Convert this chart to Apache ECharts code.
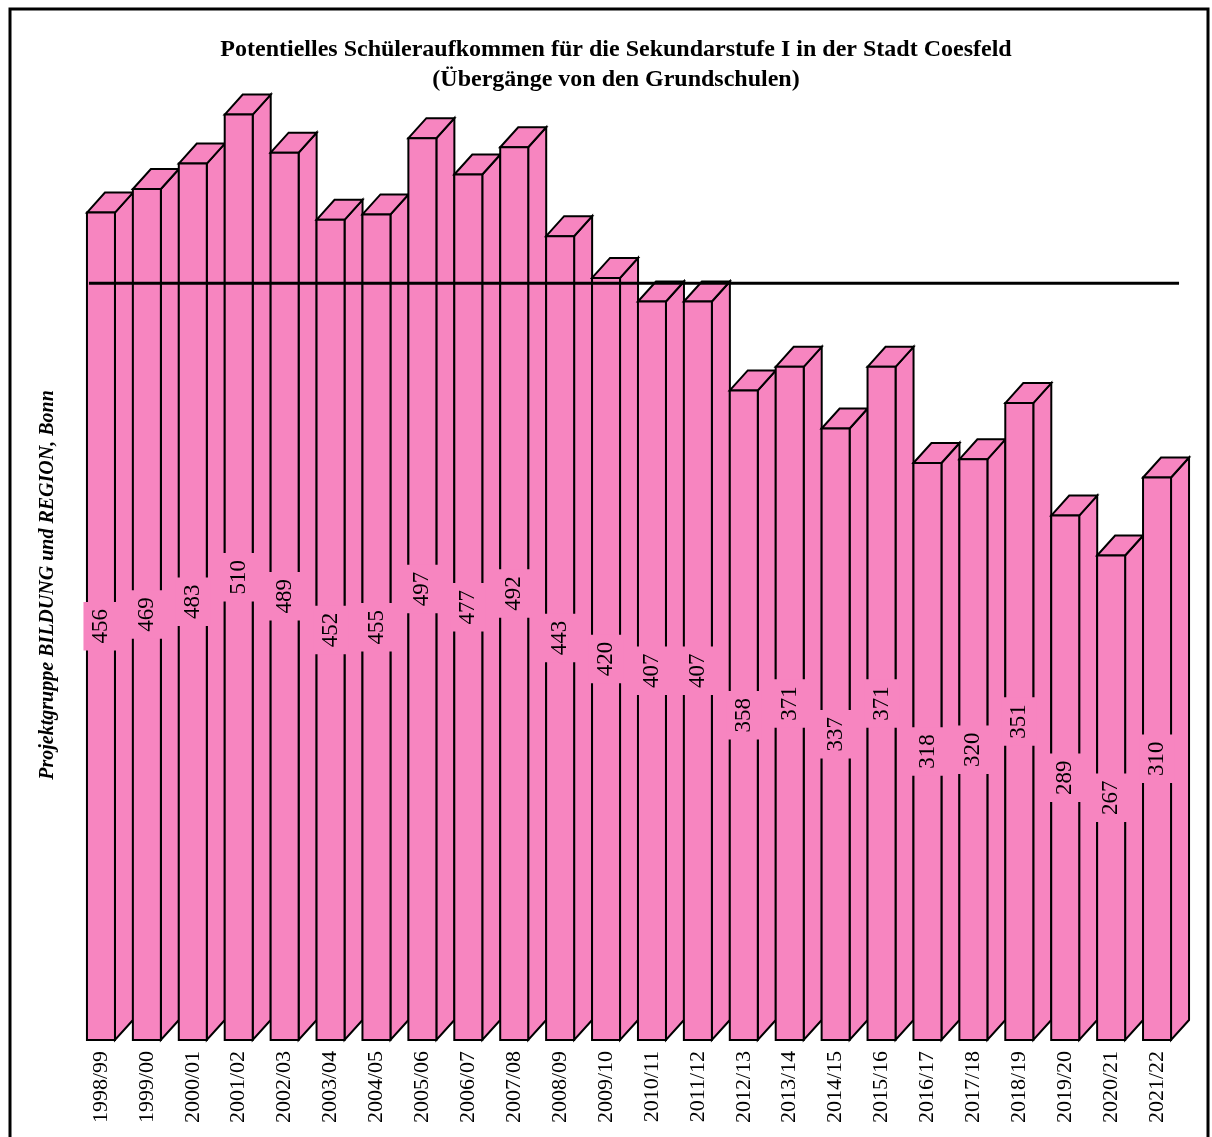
<!DOCTYPE html>
<html>
<head>
<meta charset="utf-8">
<script src="https://cdn.jsdelivr.net/npm/echarts@6/dist/echarts.min.js"></script>
<style>
  html, body { margin: 0; padding: 0; background: #fff; }
  #chart { width: 1212px; height: 1137px; }
</style>
</head>
<body>
<div id="chart"></div>
<script>
const categories = ['1998/99', '1999/00', '2000/01', '2001/02', '2002/03', '2003/04', '2004/05', '2005/06',
  '2006/07', '2007/08', '2008/09', '2009/10', '2010/11', '2011/12', '2012/13', '2013/14', '2014/15',
  '2015/16', '2016/17', '2017/18', '2018/19', '2019/20', '2020/21', '2021/22']
const values = [456, 469, 483, 510, 489, 452, 455, 497, 477, 492, 443, 420, 407, 407, 358, 371, 337,
  371, 318, 320, 351, 289, 267, 310]
// horizontal reference line
const referenceValue = 417

const pink = '#f785c0'
const serif = '"Liberation Serif", "Times New Roman", serif'

const chart = echarts.init(document.getElementById('chart'))

function renderBar(params, api) {
  const i = api.value(0)
  const v = api.value(1)
  const top = api.coord([i, v])
  const base = api.coord([i, 0])
  const w = 28, dx = 18, dy = 20
  const x0 = top[0] - w / 2
  const x1 = top[0] + w / 2
  const style = { fill: pink, stroke: '#000', lineWidth: 2, lineJoin: 'miter' }
  const z = i * 4
  return {
    type: 'group',
    children: [
      {
        type: 'polygon', z2: z,
        shape: { points: [[x1, top[1]], [x1 + dx, top[1] - dy], [x1 + dx, base[1] - dy], [x1, base[1]]] },
        style
      },
      {
        type: 'polygon', z2: z + 1,
        shape: { points: [[x0, top[1]], [x0 + dx, top[1] - dy], [x1 + dx, top[1] - dy], [x1, top[1]]] },
        style
      },
      {
        type: 'rect', z2: z + 2,
        shape: { x: x0, y: top[1], width: w, height: base[1] - top[1] },
        style
      },
      {
        type: 'text', z2: 500,
        x: top[0], y: (top[1] + base[1]) / 2,
        rotation: Math.PI / 2,
        style: {
          text: String(v),
          fill: '#000',
          font: '23px ' + serif,
          align: 'center',
          verticalAlign: 'middle',
          backgroundColor: pink,
          padding: [6, 7]
        }
      }
    ]
  }
}

function renderRefLine(params, api) {
  const start = api.coord([0, api.value(0)])
  const end = api.coord([categories.length - 1, api.value(0)])
  return {
    type: 'line',
    z2: 400,
    shape: { x1: start[0] - 12, y1: start[1], x2: end[0] + 22, y2: end[1] },
    style: { stroke: '#000', lineWidth: 3 }
  }
}

const option = {
  backgroundColor: '#fff',
  animation: false,
  title: {
    text: 'Potentielles Schüleraufkommen für die Sekundarstufe I in der Stadt Coesfeld\n(Übergänge von den Grundschulen)',
    left: 611,
    top: 30,
    textAlign: 'center',
    textStyle: {
      fontFamily: serif,
      fontSize: 24,
      fontWeight: 'bold',
      color: '#000',
      lineHeight: 30
    }
  },
  grid: { left: 78, right: 32, top: 42, bottom: 97 },
  xAxis: {
    type: 'category',
    data: categories,
    axisLine: { show: false },
    axisTick: { show: false },
    axisLabel: {
      rotate: 90,
      margin: 11,
      fontFamily: serif,
      fontSize: 22,
      color: '#000',
      interval: 0
    }
  },
  yAxis: {
    type: 'value',
    min: 0,
    max: 550,
    show: false
  },
  series: [
    {
      type: 'custom',
      renderItem: renderBar,
      data: values.map((v, i) => [i, v]),
      encode: { x: 0, y: 1 },
      z: 2
    },
    {
      type: 'custom',
      renderItem: renderRefLine,
      data: [[referenceValue]],
      encode: { y: 0 },
      z: 3
    }
  ],
  graphic: [
    {
      type: 'rect',
      shape: { x: 10, y: 9, width: 1198, height: 1145 },
      style: { fill: 'none', stroke: '#000', lineWidth: 3 },
      z: 10
    },
    {
      type: 'text',
      x: 48,
      y: 585,
      rotation: Math.PI / 2,
      style: {
        text: 'Projektgruppe BILDUNG und REGION, Bonn',
        font: 'italic bold 20px ' + serif,
        fill: '#000',
        align: 'center',
        verticalAlign: 'middle'
      }
    }
  ]
}

chart.setOption(option)
window.addEventListener('resize', () => chart.resize())
</script>
</body>
</html>
